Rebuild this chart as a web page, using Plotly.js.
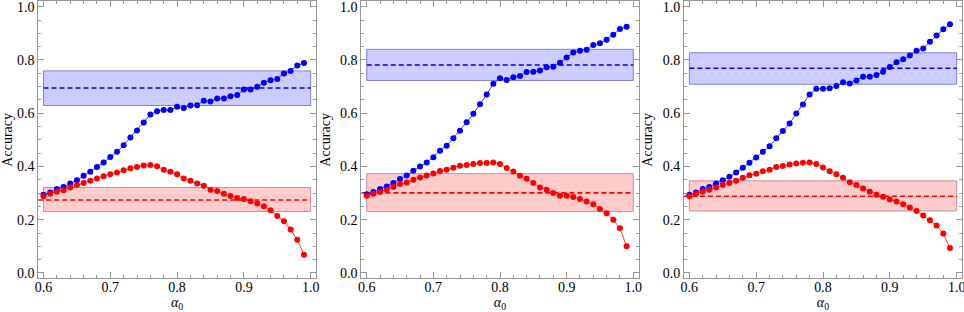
<!DOCTYPE html>
<html>
<head>
<meta charset="utf-8">
<script src="https://cdn.plot.ly/plotly-3.0.1.min.js"></script>
<style>
html,body{margin:0;padding:0;background:#fff;}
#chart{width:964px;height:312px;}
#chart .xtick text, #chart .x2tick text, #chart .x3tick text,
#chart .ytick text, #chart .y2tick text, #chart .y3tick text {
  visibility: visible !important; opacity: 1 !important; fill-opacity: 1 !important;
}
</style>
</head>
<body>
<div id="chart"></div>
<script>
const alpha = [0.60,0.61,0.62,0.63,0.64,0.65,0.66,0.67,0.68,0.69,0.70,0.71,0.72,0.73,0.74,0.75,0.76,0.77,0.78,0.79,0.80,0.81,0.82,0.83,0.84,0.85,0.86,0.87,0.88,0.89,0.90,0.91,0.92,0.93,0.94,0.95,0.96,0.97,0.98,0.99];

const blue1 = [0.294,0.302,0.315,0.323,0.336,0.348,0.365,0.380,0.398,0.415,0.436,0.455,0.480,0.509,0.535,0.565,0.595,0.607,0.612,0.612,0.624,0.620,0.629,0.630,0.647,0.644,0.655,0.655,0.664,0.668,0.689,0.689,0.699,0.714,0.724,0.729,0.749,0.759,0.779,0.789];
const red1 = [0.288,0.298,0.305,0.311,0.321,0.330,0.338,0.346,0.355,0.363,0.371,0.377,0.386,0.393,0.398,0.404,0.406,0.401,0.388,0.380,0.371,0.355,0.346,0.336,0.328,0.313,0.308,0.298,0.289,0.282,0.278,0.269,0.261,0.251,0.236,0.214,0.194,0.163,0.125,0.068];

const blue2 = [0.296,0.304,0.315,0.325,0.338,0.353,0.366,0.384,0.400,0.415,0.435,0.459,0.478,0.506,0.534,0.566,0.598,0.634,0.670,0.711,0.731,0.725,0.735,0.740,0.755,0.756,0.760,0.773,0.775,0.790,0.809,0.828,0.835,0.838,0.856,0.863,0.876,0.895,0.916,0.925];
const red2 = [0.290,0.298,0.304,0.313,0.323,0.334,0.340,0.350,0.359,0.366,0.374,0.383,0.388,0.395,0.403,0.406,0.409,0.413,0.413,0.415,0.409,0.394,0.381,0.365,0.354,0.338,0.321,0.313,0.300,0.290,0.290,0.285,0.278,0.268,0.258,0.240,0.224,0.200,0.168,0.100];

const blue3 = [0.294,0.302,0.315,0.323,0.336,0.348,0.361,0.377,0.395,0.414,0.434,0.455,0.476,0.506,0.533,0.561,0.599,0.633,0.670,0.692,0.692,0.694,0.702,0.716,0.712,0.723,0.737,0.737,0.744,0.756,0.774,0.791,0.803,0.817,0.835,0.843,0.868,0.892,0.915,0.934];
const red3 = [0.288,0.298,0.305,0.313,0.321,0.330,0.338,0.346,0.358,0.367,0.373,0.382,0.388,0.398,0.402,0.407,0.411,0.414,0.415,0.409,0.396,0.382,0.371,0.358,0.341,0.330,0.317,0.305,0.294,0.286,0.276,0.268,0.258,0.246,0.233,0.216,0.198,0.178,0.148,0.094];

// band [low, high] and dashed mean, per panel
const blueBandLow  = [0.629, 0.723, 0.709];
const blueBandHigh = [0.759, 0.840, 0.827];
const blueMean     = [0.695, 0.781, 0.769];
const redBandLow   = [0.231, 0.231, 0.233];
const redBandHigh  = [0.321, 0.373, 0.346];
const redMean      = [0.274, 0.301, 0.288];

const bandX = [0.6, 1.0];
const xRange = [0.592, 1.008];
const yRange = [-0.02, 1.02];
const xTicks = [0.6, 0.7, 0.8, 0.9, 1.0];
const xTickText = ['0.6', '0.7', '0.8', '0.9', '1.0'];
const yTicks = [0.0, 0.2, 0.4, 0.6, 0.8, 1.0];
const yTickText = ['0.0', '0.2', '0.4', '0.6', '0.8', '1.0'];

const blues = [blue1, blue2, blue3];
const reds = [red1, red2, red3];

const W = 964, H = 312;
const xDomainsPx = [[38.2, 316], [361.4, 638.6], [684, 962]];
const yDomain = [(H - 278.3) / H, (H - 1.4) / H];

const frameColor = 'rgb(150,150,150)';
const serif = 'Liberation Serif';

const traces = [];
const shapes = [];
const layout = {
  width: W, height: H,
  margin: {l: 0, r: 0, t: 0, b: 0},
  paper_bgcolor: '#fff', plot_bgcolor: 'rgba(0,0,0,0)',
  showlegend: false,
  font: {family: serif, size: 14, color: '#000'},
  shapes: shapes
};

for (let i = 0; i < 3; i++) {
  const sfx = i === 0 ? '' : String(i + 1);
  const xa = 'x' + sfx, ya = 'y' + sfx;
  const d = xDomainsPx[i];
  const common = {
    ticks: 'inside', showline: true, linecolor: frameColor, linewidth: 1,
    mirror: 'allticks', tickcolor: frameColor, ticklen: 6, tickwidth: 1,
    showgrid: false, zeroline: false,
    tickfont: {family: serif, size: 14, color: '#000'},
    ticklabeloverflow: 'allow'
  };
  layout['xaxis' + sfx] = Object.assign({}, common, {
    domain: [d[0] / W, d[1] / W], range: xRange, tickmode: 'array',
    tickvals: xTicks, ticktext: xTickText,
    anchor: ya, ticklabelstandoff: -4,
    minor: {dtick: 0.02, tick0: 0.6, ticks: 'inside', ticklen: 3, tickcolor: frameColor, showgrid: false},
    title: {text: '<i>α</i><sub>0</sub>', font: {family: serif, size: 14, color: '#000'}, standoff: 2}
  });
  layout['yaxis' + sfx] = Object.assign({}, common, {
    domain: yDomain, range: yRange, tickmode: 'array',
    tickvals: yTicks, ticktext: yTickText,
    anchor: xa,
    minor: {dtick: 0.05, tick0: 0, ticks: 'inside', ticklen: 3, tickcolor: frameColor, showgrid: false},
    title: {text: 'Accuracy', font: {family: serif, size: 14, color: '#000'}, standoff: 6}
  });

  // bands
  shapes.push({type: 'rect', xref: xa, yref: ya, x0: bandX[0], x1: bandX[1],
    y0: blueBandLow[i], y1: blueBandHigh[i], fillcolor: 'rgb(204,204,255)',
    line: {color: 'rgb(128,128,208)', width: 1}, layer: 'below'});
  shapes.push({type: 'rect', xref: xa, yref: ya, x0: bandX[0], x1: bandX[1],
    y0: redBandLow[i], y1: redBandHigh[i], fillcolor: 'rgb(255,204,204)',
    line: {color: 'rgb(200,140,165)', width: 1}, layer: 'below'});

  // dashed means
  traces.push({type: 'scatter', mode: 'lines', xaxis: xa, yaxis: ya,
    x: [bandX[0], bandX[1]], y: [blueMean[i], blueMean[i]],
    line: {color: 'rgb(0,0,255)', width: 1.6, dash: '5px,3px'}, hoverinfo: 'skip'});
  traces.push({type: 'scatter', mode: 'lines', xaxis: xa, yaxis: ya,
    x: [xRange[0], bandX[1]], y: [redMean[i], redMean[i]],
    line: {color: 'rgb(255,0,0)', width: 1.6, dash: '5px,3px'}, hoverinfo: 'skip'});

  traces.push({type: 'scatter', mode: 'lines+markers', xaxis: xa, yaxis: ya,
    x: alpha, y: blues[i], line: {color: 'rgb(60,60,255)', width: 1},
    marker: {color: 'rgb(0,0,255)', size: 6}});
  traces.push({type: 'scatter', mode: 'lines+markers', xaxis: xa, yaxis: ya,
    x: alpha, y: reds[i], line: {color: 'rgb(255,60,60)', width: 1},
    marker: {color: 'rgb(255,0,0)', size: 6}});
}

Plotly.newPlot('chart', traces, layout, {staticPlot: true, displayModeBar: false});
</script>
</body>
</html>
